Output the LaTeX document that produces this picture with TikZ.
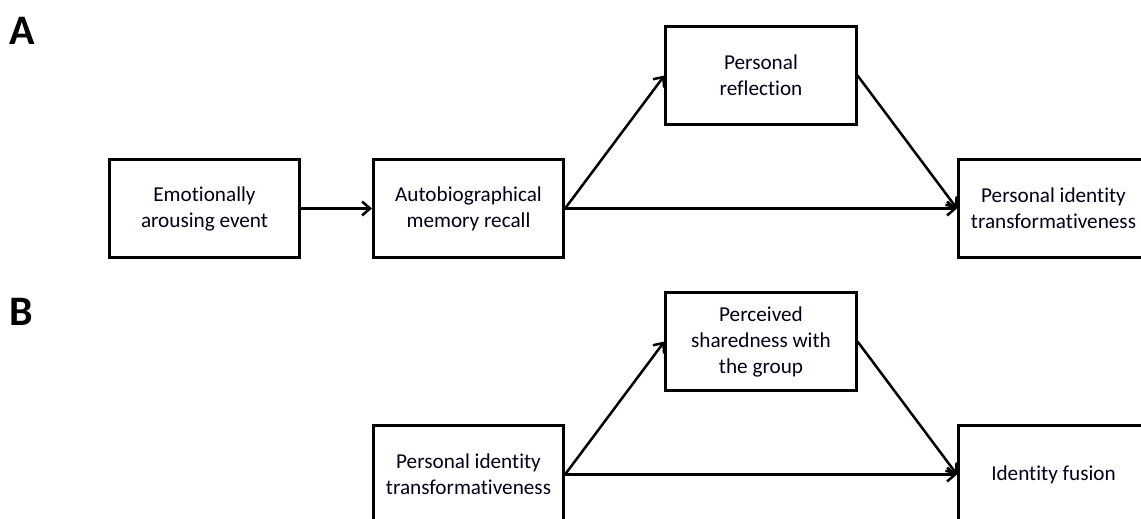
\documentclass[tikz,border=0pt]{standalone}
\usepackage{fontspec}
\setmainfont{Carlito}[Ligatures=NoCommon]
\usetikzlibrary{arrows.meta}
\begin{document}
\begin{tikzpicture}[x=1pt,y=-1pt,
  box/.style={draw=black,line width=2.6pt,minimum width=190.5pt,minimum height=98.5pt,
    inner sep=0pt,align=center,font=\fontsize{21.2}{26}\selectfont,text=black!90!blue},
  arr/.style={line width=2.5pt,-{Straight Barb[length=8pt,width=14pt,line width=2.5pt]}},
  panel/.style={font=\fontsize{42}{42}\selectfont\bfseries,anchor=west,inner sep=0pt}]
\useasboundingbox (0,0) rectangle (1141,519);
\node[panel] (lA) at (9,31) {A};
\node[panel] (lB) at (9,312) {B};
\node[box] (b1) at (204.5,208.5) {Emotionally\\arousing event};
\node[box] (b2) at (468.5,208.5) {Autobiographical\\memory recall};
\node[box] (b3) at (761,75.5) {Personal\\reflection};
\node[box] (b4) at (1053.5,208.5) {Personal identity\\transformativeness};
\node[box] (b5) at (468.5,474.5) {Personal identity\\transformativeness};
\node[box] (b6) at (761,341.5) {Perceived\\sharedness with\\the group};
\node[box] (b7) at (1053.5,474.5) {Identity fusion};
\draw[arr] (b1.east) -- (b2.west);
\draw[arr] (b2.east) -- (b3.west);
\draw[arr] (b2.east) -- (b4.west);
\draw[arr] (b3.east) -- (b4.west);
\draw[arr] (b5.east) -- (b6.west);
\draw[arr] (b5.east) -- (b7.west);
\draw[arr] (b6.east) -- (b7.west);
\end{tikzpicture}
\end{document}
